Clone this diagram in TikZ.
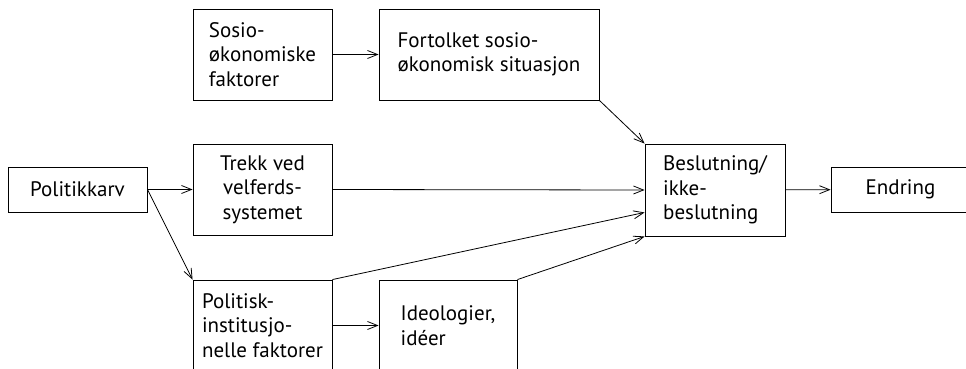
\documentclass[tikz,border=0pt]{standalone}
\usepackage{fontspec}
\setmainfont{PT Sans}
\usetikzlibrary{arrows.meta}
\begin{document}
\begin{tikzpicture}
[x=1pt,y=1pt,
  boxdecorate/.style={shape=rectangle,draw,line width=0.9pt,inner sep=0pt,
    minimum width=139pt,minimum height=91pt,align=left,
    font=\fontsize{21}{24.5}\selectfont},%
  arrowdecorate/.style={-{Straight Barb[length=10pt,width=8pt]},line width=0.8pt}]
\clip (0,0) rectangle (966,368);
% nodes or boxes
\node (sosio) at (262.5,313.5) [boxdecorate] {Sosio-\\økonomiske\\faktorer};
\node (fortolket) at (489,313.5) [boxdecorate,minimum width=220pt] {Fortolket~sosio-\\økonomisk~situasjon};
\node (politikkarv) at (77.5,178.5) [boxdecorate,minimum height=45pt] {Politikkarv};
\node (trekk) at (262.5,178.5) [boxdecorate,align=center] {Trekk~ved\\velferds-\\systemet};
\node (beslutning) at (715,178) [boxdecorate,minimum width=140pt,minimum height=92pt] {Beslutning/\\ikke-\\beslutning};
\node (endring) at (900.5,178.5) [boxdecorate,minimum height=45pt] {Endring};
\node (politisk) at (262.5,42.5) [boxdecorate] {Politisk-\\institusjo-\\nelle~faktorer};
\node (ideologier) at (448,42.5) [boxdecorate,minimum width=138pt] {Ideologier,\\idéer};
% arrows
\path
(sosio) edge[arrowdecorate] (fortolket)
(fortolket.south east) edge[arrowdecorate] (beslutning.north west)
(politikkarv.east) edge[arrowdecorate] (trekk.west)
(politikkarv.east) edge[arrowdecorate] (politisk.north west)
(trekk.east) edge[arrowdecorate] (beslutning.west)
(politisk.north east) edge[arrowdecorate] ([yshift=24pt]beslutning.south west)
(ideologier.north east) edge[arrowdecorate] (beslutning.south west)
(politisk) edge[arrowdecorate] (ideologier)
(beslutning) edge[arrowdecorate] (endring);
\end{tikzpicture}
\end{document}
